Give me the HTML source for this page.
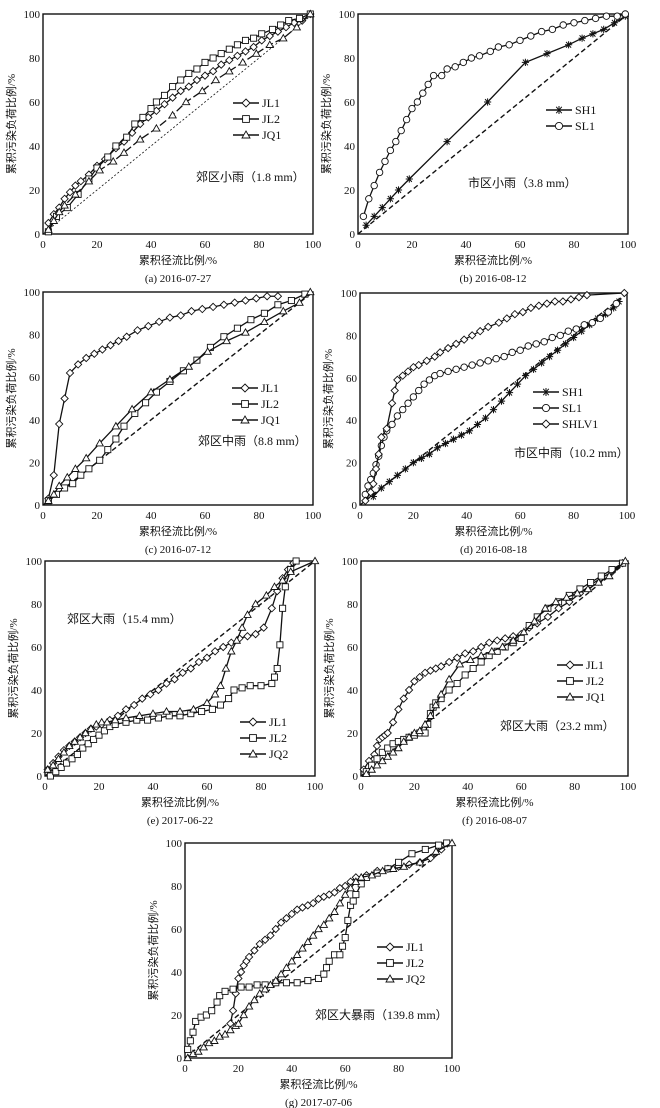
<!DOCTYPE html>
<html><head><meta charset="utf-8">
<style>
body{margin:0;background:#fff;}
svg{display:block;font-family:"Liberation Serif","Noto Serif CJK SC",serif;}
.t{font-size:11px;fill:#111;}
.l{font-size:12px;fill:#111;}
.c{font-family:"Liberation Serif","Noto Sans CJK SC",serif;font-size:11px;fill:#111;}
.a{font-family:"Liberation Serif","Noto Sans CJK SC",serif;font-size:12px;fill:#111;}
</style></head>
<body>
<svg id="chart" width="660" height="1108" viewBox="0 0 660 1108" xmlns="http://www.w3.org/2000/svg"></svg>
<script>
// ---- data (x = 累积径流比例 %, y = 累积污染负荷比例 %) ----
const aJL1x=[2,4,6,8,10,12,14,17,20,23,27,30,33,36,39,42,45,48,51,54,57,60,63,66,69,72,75,78,81,84,87,90,93,96,99];
const aJL1y=[5,9,12,16,19,22,24,27,31,34,39,42,46,50,53,56,59,62,65,67,70,72,74,77,79,81,83,85,88,90,92,94,96,97,100];
const aJL2x=[2,5,9,13,17,20,24,27,31,34,37,40,42,45,48,51,54,57,60,63,66,69,72,75,78,81,85,88,91,95,99];
const aJL2y=[1,8,12,18,25,30,35,40,44,50,53,57,60,63,67,70,73,75,78,80,82,84,86,88,89,91,93,95,97,98,100];
const aJQ1x=[2,4,6,8,12,17,21,26,30,36,42,48,53,59,64,69,74,79,84,89,94,99];
const aJQ1y=[2,6,10,13,18,24,29,33,37,43,48,54,60,65,70,74,78,82,86,89,94,100];
const bSH1x=[3,6,9,12,15,19,33,48,62,70,78,83,87,91,95,99];
const bSH1y=[4,8,12,16,20,25,42,60,78,82,86,89,91,93,96,99];
const bSL1x=[2,4,6,8,10,12,14,16,18,20,22,24,26,28,31,33,36,39,42,45,49,52,56,60,64,68,72,76,80,84,88,92,96,99];
const bSL1y=[8,16,22,28,33,38,42,47,52,57,60,64,68,72,72,75,76,78,80,81,83,85,86,88,90,92,93,95,96,97,98,99,99,100];
const cJL1x=[2,4,6,8,10,13,16,19,22,25,28,31,35,39,43,47,51,55,59,63,67,71,75,79,83,87];
const cJL1y=[3,14,38,50,62,66,69,71,73,75,77,79,82,84,86,88,89,91,92,93,94,95,96,97,98,98];
const cJL2x=[2,5,8,11,14,17,21,24,27,30,34,38,42,47,52,57,62,67,72,77,82,87,92,97];
const cJL2y=[2,5,8,10,14,17,21,26,31,37,43,48,53,58,63,68,74,79,83,87,90,94,96,99];
const cJQ1x=[2,4,6,9,12,16,21,27,33,40,47,54,61,68,75,82,89,95,99];
const cJQ1y=[2,5,9,13,17,22,29,37,45,53,59,65,72,77,81,86,91,95,100];
const dSH1x=[5,8,11,14,17,20,23,26,29,32,35,38,41,44,47,50,53,56,59,62,65,68,71,74,77,80,83,86,89,92,95,97];
const dSH1y=[4,8,11,14,17,20,22,24,27,29,31,33,35,38,41,45,49,53,57,61,64,67,70,73,76,79,82,85,88,90,93,96];
const dSL1x=[2,3,4,5,6,7,8,9,10,12,14,16,18,20,22,24,26,28,30,33,36,39,42,45,48,51,54,57,60,63,66,69,72,75,78,81,84,87,90,93,96];
const dSL1y=[5,9,12,15,19,23,28,32,35,38,42,45,48,51,54,57,59,61,62,63,64,65,66,67,68,69,70,72,73,75,76,77,79,80,82,83,85,86,88,91,95];
const dSHLV1x=[2,4,5,6,7,8,10,12,13,14,16,18,20,22,25,28,30,33,36,39,42,45,48,52,55,58,61,64,67,70,73,76,79,82,85,99];
const dSHLV1y=[2,6,10,17,24,32,36,48,54,59,61,63,65,66,68,70,72,74,76,78,80,82,84,86,88,90,91,93,94,95,96,96,97,98,99,100];
const eJL1x=[1,3,5,7,9,11,13,15,17,19,21,24,27,30,33,36,39,42,45,48,51,54,57,60,63,66,69,72,75,78,81,84,86,88,90,92];
const eJL1y=[3,6,9,12,14,16,18,20,22,23,24,26,28,31,33,36,38,40,43,45,48,50,53,55,58,60,62,64,65,66,69,78,86,92,96,99];
const eJL2x=[2,4,6,8,10,12,14,16,18,20,22,24,26,30,34,38,42,46,50,54,58,62,65,68,70,73,76,80,84,85,86,87,88,89,91,93];
const eJL2y=[0,2,4,6,8,10,13,15,17,19,21,23,24,25,26,26,27,28,28,29,30,31,33,36,40,41,42,42,43,46,50,61,78,88,96,100];
const eJQ2x=[1,3,5,7,9,11,13,15,17,19,21,23,26,30,35,40,45,50,55,60,63,65,67,69,71,73,75,78,82,85,88,91,100];
const eJQ2y=[3,5,8,11,14,16,18,20,22,24,25,25,26,27,28,29,30,30,31,34,38,42,50,58,63,69,75,80,84,88,91,95,100];
const fJL1x=[1,3,5,6,7,8,9,10,12,14,16,18,20,22,24,26,28,30,33,36,39,42,45,48,51,54,57,60,63,66,70,74,78,82,86,90,94,98];
const fJL1y=[3,7,10,14,17,18,19,20,25,31,36,40,44,46,48,49,50,51,53,55,57,58,60,62,63,64,65,66,69,71,74,78,81,85,89,92,95,99];
const fJL2x=[2,4,6,8,10,12,14,16,18,20,22,24,25,26,27,28,30,33,36,39,42,45,48,51,54,57,60,63,66,70,74,78,82,86,90,94,98];
const fJL2y=[2,5,8,11,13,15,16,17,18,19,20,20,24,29,32,34,36,40,43,47,50,53,56,58,60,62,64,70,74,78,81,84,87,90,93,96,99];
const fJQ1x=[2,4,6,8,10,12,14,16,18,20,22,24,26,28,30,33,37,41,45,49,53,57,61,65,69,73,77,81,85,89,93,99];
const fJQ1y=[1,3,5,7,9,11,13,16,18,20,21,24,28,33,38,45,52,54,56,58,60,63,67,72,78,81,83,85,87,90,93,100];
const gJL1x=[17,18,19,20,21,22,23,24,26,28,30,32,34,36,38,40,42,44,46,48,50,52,54,56,58,60,62,64,68,72,76,80,84,88,92,96];
const gJL1y=[16,22,30,37,40,43,45,47,50,53,55,57,60,63,65,67,69,70,71,72,74,75,76,77,79,80,82,84,85,87,88,89,90,91,93,97];
const gJL2x=[1,2,3,4,6,8,10,12,13,15,18,21,24,27,30,34,38,42,46,50,52,53,54,56,58,59,60,61,62,63,64,66,68,72,76,80,85,90,95,98];
const gJL2y=[4,8,12,17,19,20,22,26,29,31,32,33,33,34,34,35,35,35,36,37,39,42,45,48,48,52,56,64,71,73,76,81,84,86,88,91,95,97,99,100];
const gJQ2x=[1,3,5,7,9,11,13,15,17,19,20,22,24,26,28,30,32,34,36,38,40,42,44,46,48,50,52,54,56,58,60,62,64,66,70,74,78,82,88,94,100];
const gJQ2y=[0,2,3,5,7,8,10,11,13,15,16,20,24,27,30,32,34,36,39,42,45,48,51,54,57,60,62,65,68,72,76,79,82,84,85,87,88,89,91,96,100];
const ticks=[0,20,40,60,80,100];

const svg=document.getElementById('chart');
const NS='http://www.w3.org/2000/svg';
function mk(tag,attrs,parent){const e=document.createElementNS(NS,tag);for(const k in attrs)e.setAttribute(k,attrs[k]);(parent||svg).appendChild(e);return e;}
function marker(g,type,cx,cy,s,fill){
  let e;
  if(type==='diamond'){e=mk('polygon',{points:`${cx},${cy-s} ${cx+s},${cy} ${cx},${cy+s} ${cx-s},${cy}`,fill:fill,stroke:'#111','stroke-width':0.9},g);}
  else if(type==='square'){e=mk('rect',{x:cx-s*0.85,y:cy-s*0.85,width:s*1.7,height:s*1.7,fill:fill,stroke:'#111','stroke-width':0.9},g);}
  else if(type==='triangle'){e=mk('polygon',{points:`${cx},${cy-s} ${cx+s},${cy+s*0.75} ${cx-s},${cy+s*0.75}`,fill:fill,stroke:'#111','stroke-width':0.9},g);}
  else if(type==='circle'){e=mk('circle',{cx:cx,cy:cy,r:s*0.9,fill:fill,stroke:'#111','stroke-width':0.9},g);}
  else {e=mk('path',{d:`M${cx-s},${cy}H${cx+s}M${cx-s*0.7},${cy-s*0.8}L${cx+s*0.7},${cy+s*0.8}M${cx-s*0.7},${cy+s*0.8}L${cx+s*0.7},${cy-s*0.8}M${cx},${cy-s}V${cy+s}`,stroke:'#111','stroke-width':1,fill:'none'},g);}
  return e;
}
function panel(p){
  const g=mk('g',{});
  
  
  const X=v=>p.x0+(p.x1-p.x0)*v/100, Y=v=>p.y0-(p.y0-p.y1)*v/100;
  mk('rect',{x:p.x0,y:p.y1,width:p.x1-p.x0,height:p.y0-p.y1,fill:'none',stroke:'#111','stroke-width':1.4},g);
  ticks.forEach(t=>{
    const tx=mk('text',{x:X(t),y:p.y0+14,'text-anchor':'middle',class:'t'},g);tx.textContent=t;
    
    const ty=mk('text',{x:p.x0-3,y:Y(t)+4,'text-anchor':'end',class:'t'},g);ty.textContent=t;
    
  });
  const xt=mk('text',{x:(p.x0+p.x1)/2,y:p.y0+30,'text-anchor':'middle',class:'c'},g);xt.textContent='累积径流比例/%';
  
  const yx=p.x0-28,yy=(p.y0+p.y1)/2;
  const yt=mk('text',{x:yx,y:yy,'text-anchor':'middle',class:'c',transform:`rotate(-90 ${yx} ${yy})`},g);yt.textContent='累积污染负荷比例/%';
  
  const cap=mk('text',{x:(p.x0+p.x1)/2,y:p.y0+48,'text-anchor':'middle',class:'t'},g);cap.textContent=p.caption;
  
  const diag=mk('line',{x1:X(0),y1:Y(0),x2:X(100),y2:Y(100),stroke:'#111','stroke-width':p.thinDiag?0.8:1.4,'stroke-dasharray':p.thinDiag?'2,2':'5,3'},g);
  
  p.series.forEach(s=>{
    const sg=mk('g',{},g);
    
    
    const pts=s.xs.map((v,i)=>X(v)+','+Y(s.ys[i])).join(' ');
    mk('polyline',{points:pts,fill:'none',stroke:'#111','stroke-width':1.3,'stroke-dasharray':s.dash||'none'},sg);
    s.xs.forEach((v,i)=>{const m=marker(sg,s.m,X(v),Y(s.ys[i]),3.6,'#fff');});
  });
  const lg=mk('g',{},g);
  
  
  p.series.forEach((s,i)=>{
    const ly=p.lg[1]+i*16;
    mk('line',{x1:p.lg[0],y1:ly,x2:p.lg[0]+26,y2:ly,stroke:'#111','stroke-width':1.5},lg);
    marker(lg,s.m,p.lg[0]+13,ly,4,'#fff');
    const lt=mk('text',{x:p.lg[0]+29,y:ly+4,class:'l'},lg);lt.textContent=s.name;
    
  });
  const an=mk('text',{x:p.an[0],y:p.an[1],class:'a'},g);an.textContent=p.note;
  
}
panel({id:'a',x0:43,x1:313,y0:234,y1:14,caption:'(a) 2016-07-27',thinDiag:true,lg:[233,103],an:[196,181],note:'郊区小雨（1.8 mm）',
  series:[{name:'JL1',m:'diamond',xs:aJL1x,ys:aJL1y},{name:'JL2',m:'square',xs:aJL2x,ys:aJL2y},{name:'JQ1',m:'triangle',xs:aJQ1x,ys:aJQ1y,dash:'8,3'}]});
panel({id:'b',x0:358,x1:628,y0:234,y1:14,caption:'(b) 2016-08-12',lg:[546,110],an:[468,187],note:'市区小雨（3.8 mm）',
  series:[{name:'SH1',m:'star',xs:bSH1x,ys:bSH1y},{name:'SL1',m:'circle',xs:bSL1x,ys:bSL1y}]});
panel({id:'c',x0:43,x1:313,y0:505,y1:292,caption:'(c) 2016-07-12',lg:[232,388],an:[198,445],note:'郊区中雨（8.8 mm）',
  series:[{name:'JL1',m:'diamond',xs:cJL1x,ys:cJL1y},{name:'JL2',m:'square',xs:cJL2x,ys:cJL2y},{name:'JQ1',m:'triangle',xs:cJQ1x,ys:cJQ1y}]});
panel({id:'d',x0:360,x1:627,y0:505,y1:293,caption:'(d) 2016-08-18',lg:[533,392],an:[514,457],note:'市区中雨（10.2 mm）',
  series:[{name:'SH1',m:'star',xs:dSH1x,ys:dSH1y},{name:'SL1',m:'circle',xs:dSL1x,ys:dSL1y},{name:'SHLV1',m:'diamond',xs:dSHLV1x,ys:dSHLV1y}]});
panel({id:'e',x0:45,x1:315,y0:776,y1:561,caption:'(e) 2017-06-22',lg:[240,722],an:[67,623],note:'郊区大雨（15.4 mm）',
  series:[{name:'JL1',m:'diamond',xs:eJL1x,ys:eJL1y},{name:'JL2',m:'square',xs:eJL2x,ys:eJL2y},{name:'JQ2',m:'triangle',xs:eJQ2x,ys:eJQ2y}]});
panel({id:'f',x0:361,x1:628,y0:776,y1:561,caption:'(f) 2016-08-07',lg:[557,665],an:[500,730],note:'郊区大雨（23.2 mm）',
  series:[{name:'JL1',m:'diamond',xs:fJL1x,ys:fJL1y},{name:'JL2',m:'square',xs:fJL2x,ys:fJL2y},{name:'JQ1',m:'triangle',xs:fJQ1x,ys:fJQ1y}]});
panel({id:'g',x0:185,x1:452,y0:1058,y1:843,caption:'(g) 2017-07-06',lg:[377,947],an:[315,1019],note:'郊区大暴雨（139.8 mm）',
  series:[{name:'JL1',m:'diamond',xs:gJL1x,ys:gJL1y},{name:'JL2',m:'square',xs:gJL2x,ys:gJL2y},{name:'JQ2',m:'triangle',xs:gJQ2x,ys:gJQ2y}]});
</script>
</body></html>
